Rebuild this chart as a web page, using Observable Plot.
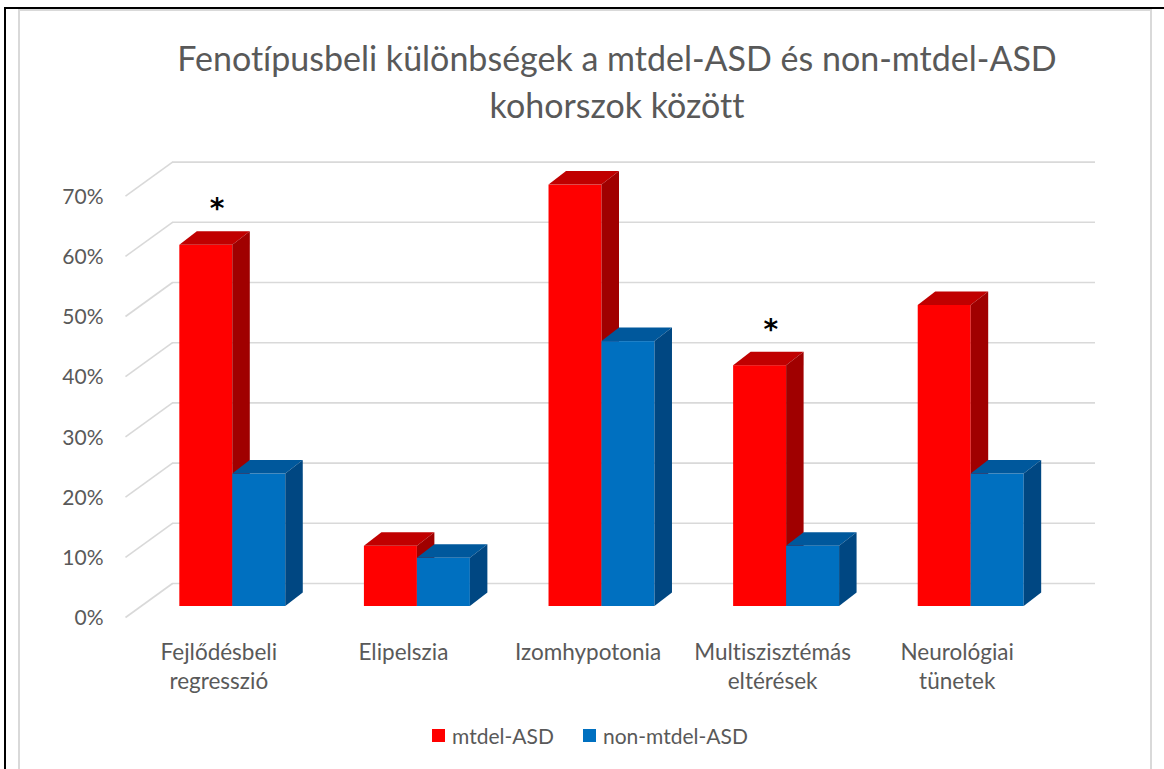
<!DOCTYPE html>
<html>
<head>
<meta charset="utf-8">
<script src="https://cdn.jsdelivr.net/npm/d3@7"></script>
<script src="https://cdn.jsdelivr.net/npm/@observablehq/plot@0.6"></script>
<style>
  html, body { margin: 0; padding: 0; background: #fff; }
  #wrap { position: relative; width: 1164px; height: 769px; overflow: hidden; font-family: Lato, "Open Sans", sans-serif; font-variant-ligatures: none; }
  #wrap svg text { font-variant-ligatures: none; }
  #blackTop { position: absolute; left: 4px; top: 7px; width: 1160px; height: 2px; background: #000; }
  #blackLeft { position: absolute; left: 4px; top: 7px; width: 2px; height: 770px; background: #000; }
  #grayBox { position: absolute; left: 18px; top: 9px; width: 1134px; height: 800px; border: 2px solid #d9d9d9; border-bottom: none; box-sizing: border-box; }
  #title { position: absolute; left: 0; width: 1234px; top: 35px; text-align: center; color: #595959; font-size: 34px; line-height: 46.6px; }
  #legend { position: absolute; left: 8px; width: 1164px; top: 723px; display: flex; justify-content: center; color: #595959; font-size: 21px; line-height: 25px; }
  .item { display: flex; align-items: center; margin: 0 14.5px; }
  .sw { width: 13px; height: 13px; margin-right: 7px; }
  #chart { position: absolute; left: 0; top: 0; }
</style>
</head>
<body>
<div id="wrap">
  <div id="blackTop"></div>
  <div id="blackLeft"></div>
  <div id="grayBox"></div>
  <div id="chart"></div>
  <div id="title"></div>
  <div id="legend"></div>
</div>
<script>
// ---- data ----
const titleLines = ["Fenotípusbeli különbségek a mtdel-ASD és non-mtdel-ASD", "kohorszok között"];
const categories = ["Fejlődésbeli\nregresszió", "Elipelszia", "Izomhypotonia", "Multiszisztémás\neltérések", "Neurológiai\ntünetek"];
const seriesNames = ["mtdel-ASD", "non-mtdel-ASD"];
const mtdelASD = [0.60, 0.10, 0.70, 0.40, 0.50];
const nonMtdelASD = [0.22, 0.08, 0.44, 0.10, 0.22];
const significant = [true, false, false, true, false];
const yTicks = [0, 0.1, 0.2, 0.3, 0.4, 0.5, 0.6, 0.7];
const yTickLabels = ["0%", "10%", "20%", "30%", "40%", "50%", "60%", "70%"];

// ---- styles ----
const faceColors = [
  {front: "#ff0000", top: "#c00000", side: "#a00000"},
  {front: "#0070c0", top: "#00589c", side: "#004782"}
];

// ---- layout ----
const W = 1164, H = 769;
const mL = 140, mR = 101, mT = 184.6, mB = 163;
const bandPx = (W - mL - mR) / categories.length;   // px per category
const unitPx = (H - mT - mB) / 0.7;                 // px per 1.0 of y
const px2x = p => p / bandPx;
const px2y = p => p / unitPx;
const barStart = 0.213, barW = 0.287;
const depthX = px2x(17.5), depthY = px2y(13.5);

const series = [mtdelASD, nonMtdelASD];
const bars = [];
series.forEach((vals, s) => vals.forEach((v, i) => {
  const x0 = i + barStart + s * barW;
  bars.push({id: `${s}-${i}`, s, i, v, x0, x1: x0 + barW});
}));
const topRows = bars.flatMap(b => [
  {id: b.id, s: b.s, y: b.v, xa: b.x0, xb: b.x1},
  {id: b.id, s: b.s, y: b.v + depthY, xa: b.x0 + depthX, xb: b.x1 + depthX}
]);
const sideRows = bars.flatMap(b => [
  {id: b.id, s: b.s, x: b.x1, ya: 0, yb: b.v},
  {id: b.id, s: b.s, x: b.x1 + depthX, ya: depthY, yb: b.v + depthY}
]);
const stars = mtdelASD.map((v, i) => ({i, v})).filter((d) => significant[d.i]);
const ticks = yTicks.map((t, k) => ({t, label: yTickLabels[k]}));
const cats = categories.map((c, i) => ({i, c}));

const faceMarks = [];
[0, 1].forEach(s => {
  faceMarks.push(
    Plot.rect(bars.filter(b => b.s === s), {x1: "x0", x2: "x1", y1: 0, y2: "v", fill: faceColors[s].front}),
    Plot.area(topRows.filter(r => r.s === s), {x1: "xa", x2: "xb", y1: "y", y2: "y", z: "id", fill: faceColors[s].top, curve: "linear"}),
    Plot.area(sideRows.filter(r => r.s === s), {x1: "x", x2: "x", y1: "ya", y2: "yb", z: "id", fill: faceColors[s].side, curve: "linear"})
  );
});

const chart = Plot.plot({
  width: W, height: H,
  marginLeft: mL, marginRight: mR, marginTop: mT, marginBottom: mB,
  style: {background: "transparent", fontFamily: "Lato, 'Open Sans', sans-serif", overflow: "visible"},
  x: {type: "linear", domain: [0, categories.length], axis: null},
  y: {domain: [0, 0.7], axis: null},
  marks: [
    // back wall gridlines
    Plot.ruleY(ticks, {y: "t", x1: 0, x2: categories.length, dx: 32, dy: -23, stroke: "#d9d9d9", strokeWidth: 1.6}),
    // side wall gridlines
    Plot.link(ticks, {x1: px2x(-15), x2: px2x(32), y1: d => d.t - px2y(11), y2: d => d.t + px2y(23), stroke: "#d9d9d9", strokeWidth: 1.6}),
    ...faceMarks,
    // y tick labels
    Plot.text(ticks, {x: 0, y: "t", text: "label", textAnchor: "end", dx: -37, dy: 12, fill: "#595959", fontSize: 21}),
    // category labels
    Plot.text(cats, {x: d => d.i + 0.5, y: 0, text: "c", dx: -14, dy: 33, lineAnchor: "top", lineHeight: 1.29, fill: "#595959", fontSize: 22.5}),
    // significance markers
    Plot.text(stars, {x: d => d.i + 0.415, y: "v", text: () => "*", dy: -36, fontSize: 28, fontWeight: "bold", fontFamily: "'DejaVu Sans', sans-serif", fill: "#000"})
  ]
});
document.getElementById("chart").appendChild(chart);

// title
document.getElementById("title").innerHTML = titleLines.map(l => `<div>${l}</div>`).join("");
// legend
document.getElementById("legend").innerHTML = seriesNames.map((n, s) =>
  `<div class="item"><div class="sw" style="background:${faceColors[s].front}"></div><span>${n}</span></div>`).join("");
</script>
</body>
</html>
